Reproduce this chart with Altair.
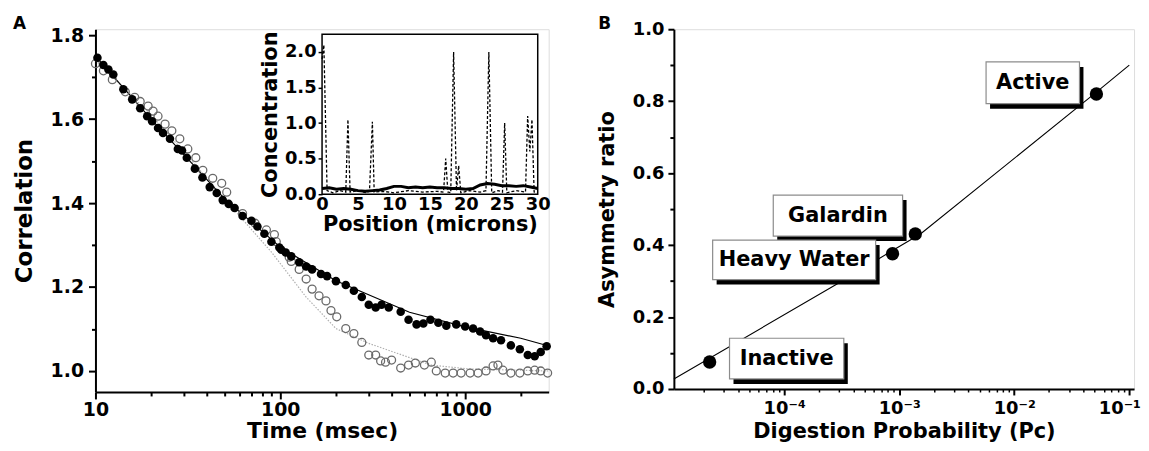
import altair as alt
import pandas as pd
import numpy as np

# ---------------- Panel A: correlation curves ----------------
filled_t = [10.25, 11.04, 11.75, 12.49, 14.15, 15.8, 17.46, 19.04, 20.25, 21.8, 23.2, 25.3,
            27.9, 29.4, 31.2, 34.5, 37.9, 41.5, 45.3, 48.8, 52.6, 56.6, 62.5, 69.8, 75.2, 82.0,
            89.5, 98.8, 101.2, 107, 114.6, 126.5, 138, 148.6, 166, 179, 200, 226, 250, 276,
            301, 328, 353, 386, 448, 494, 546, 594, 649, 716, 791, 895, 1000, 1104, 1205,
            1297, 1416, 1563, 1767, 1977, 2182, 2378, 2563, 2760]
filled_c = [1.746, 1.729, 1.718, 1.706, 1.671, 1.647, 1.626, 1.607, 1.595, 1.579, 1.567, 1.553,
            1.529, 1.525, 1.508, 1.482, 1.461, 1.438, 1.424, 1.407, 1.398, 1.388, 1.369, 1.358,
            1.344, 1.327, 1.308, 1.294, 1.289, 1.282, 1.273, 1.259, 1.249, 1.242, 1.231, 1.226,
            1.214, 1.205, 1.191, 1.176, 1.158, 1.151, 1.158, 1.151, 1.141, 1.122, 1.111, 1.113,
            1.122, 1.115, 1.108, 1.111, 1.106, 1.101, 1.094, 1.085, 1.078, 1.073, 1.061, 1.052,
            1.038, 1.035, 1.045, 1.059]

open_t = [10.0, 11.04, 12.34, 14.5, 16.3, 17.46, 19.27, 20.5, 21.8, 23.8, 25.9, 28.6, 31.6,
          34.9, 38.1, 43.1, 48.2, 51.3, 62.5, 73, 84.1, 92.9, 95.1, 111.7, 114.6, 126.5, 138,
          148.6, 162, 176.6, 188, 202, 226, 250, 276, 301, 328, 349, 371, 400, 448, 494, 538,
          602, 656, 698, 780, 861, 951, 1064, 1175, 1297, 1416, 1504, 1600, 1767, 1977, 2182,
          2378, 2563, 2794]
open_c = [1.732, 1.715, 1.694, 1.665, 1.652, 1.642, 1.631, 1.619, 1.607, 1.588, 1.572, 1.553,
          1.529, 1.508, 1.478, 1.459, 1.447, 1.426, 1.375, 1.352, 1.336, 1.325, 1.308, 1.271,
          1.261, 1.242, 1.219, 1.195, 1.179, 1.167, 1.144, 1.129, 1.101, 1.089, 1.068, 1.038,
          1.038, 1.024, 1.021, 1.026, 1.007, 1.014, 1.019, 1.014, 1.021, 1.0, 0.995, 0.995,
          0.995, 0.995, 0.995, 1.0, 1.012, 1.014, 1.002, 0.995, 0.995, 1.0, 1.002, 1.0, 0.995]

fit_filled_t = [10, 20, 50, 100, 200, 500, 1000, 2000, 2800]
fit_filled_c = [1.75, 1.60, 1.41, 1.295, 1.215, 1.14, 1.105, 1.078, 1.06]

fit_open_t = [10, 20, 40, 60, 90, 138, 200, 300, 456, 656, 1040, 2830]
fit_open_c = [1.74, 1.61, 1.46, 1.37, 1.282, 1.176, 1.101, 1.066, 1.038, 1.014, 1.005, 1.0]

a_tick_values = [10, 100, 1000]
a_minor_x = [20, 30, 40, 50, 60, 70, 80, 90, 200, 300, 400, 500, 600, 700, 800, 900, 2000]
a_y_ticks = [1.0, 1.2, 1.4, 1.6, 1.8]
a_minor_y = [1.1, 1.3, 1.5, 1.7]

# ---------------- Inset: concentration profile ----------------
solid_pos = [0, 1, 2, 3, 4, 5, 6, 7, 8, 9, 10, 11, 12, 13, 14, 15, 16, 17, 18, 19, 20, 21,
             22, 23, 24, 25, 26, 27, 28, 29, 30]
solid_conc = [0.08, 0.09, 0.07, 0.08, 0.07, 0.05, 0.04, 0.05, 0.06, 0.08, 0.11, 0.11, 0.09,
              0.10, 0.09, 0.10, 0.09, 0.09, 0.08, 0.08, 0.07, 0.08, 0.13, 0.15, 0.14, 0.12,
              0.12, 0.11, 0.12, 0.10, 0.08]

dashed_pos = [0.0, 0.25, 0.7, 1.5, 2.5, 3.3, 3.6, 3.9, 5.0, 6.2, 6.6, 7.0, 7.25, 8.5, 10, 12,
              14, 16, 16.9, 17.2, 17.5, 17.9, 18.3, 18.7, 19.0, 19.3, 20.5, 22, 22.8, 23.2,
              23.6, 24.5, 25.1, 25.4, 25.7, 27, 28.3, 28.6, 28.9, 29.2, 29.5, 30]
dashed_conc = [1.9, 2.1, 0.05, 0.02, 0.05, 0.03, 1.05, 0.03, 0.05, 0.02, 0.05, 1.02, 0.03,
               0.04, 0.02, 0.05, 0.03, 0.04, 0.03, 0.5, 0.03, 0.02, 2.0, 0.05, 0.4, 0.02,
               0.05, 0.03, 0.05, 2.0, 0.02, 0.05, 0.03, 1.0, 0.02, 0.05, 0.03, 1.1, 0.6, 1.05,
               0.03, 0.02]

inset_x_ticks = [0, 5, 10, 15, 20, 25, 30]
inset_y_ticks = [0.0, 0.5, 1.0, 1.5, 2.0]

# ---------------- Panel B: asymmetry ratio ----------------
cond_names = ["Inactive", "Heavy Water", "Galardin", "Active"]
cond_pc = [2.25e-5, 8.75e-4, 1.38e-3, 0.0518]
cond_ratio = [0.075, 0.376, 0.431, 0.82]

fit_b_pc = [1.1e-5, 2.93e-4, 8.75e-4, 1.53e-3, 0.0518, 0.1]
fit_b_ratio = [0.028, 0.293, 0.385, 0.431, 0.825, 0.90]

# label boxes (data coordinates of each annotation box)
box_x_lo = [3.35e-5, 2.39e-5, 8.04e-5, 5.69e-3]
box_x_hi = [3.3e-4, 6.24e-4, 1.07e-3, 0.0369]
box_y_lo = [0.028, 0.304, 0.425, 0.793]
box_y_hi = [0.141, 0.414, 0.539, 0.909]

b_tick_values = [1e-4, 1e-3, 1e-2, 1e-1]
b_tick_labels = ["10⁻⁴", "10⁻³", "10⁻²", "10⁻¹"]
b_minor_x = [m * 10.0 ** e for e in (-5, -4, -3, -2) for m in range(2, 10)]
b_minor_x = [v for v in b_minor_x if 1.1e-5 <= v <= 0.11]
b_y_ticks = [0.0, 0.2, 0.4, 0.6, 0.8, 1.0]
b_minor_y = [0.1, 0.3, 0.5, 0.7, 0.9]

panel_letters = ["A", "B"]

FONT = "DejaVu Sans"


def ax(**kw):
    base = dict(labelFont=FONT, labelFontWeight="bold", titleFont=FONT,
                titleFontWeight="bold", domainColor="black", tickColor="black",
                labelColor="black", titleColor="black", grid=False, labelFlush=False)
    base.update(kw)
    return alt.Axis(**base)


def letter(txt, dx):
    return alt.Chart(pd.DataFrame({"L": [txt]})).mark_text(
        font=FONT, fontWeight="bold", fontSize=17, color="black", align="left",
        baseline="alphabetic").encode(x=alt.value(dx), y=alt.value(0), text="L:N")


# ================= Panel A =================
A_W, A_H = 456, 365
A_XDOM = [10, 2830]
A_YDOM = [0.95, 1.8141]


def xA():
    return alt.Scale(type="log", domain=A_XDOM, nice=False)


def yA():
    return alt.Scale(domain=A_YDOM, nice=False, zero=False)


fitf_df = pd.DataFrame({"t": fit_filled_t, "c": fit_filled_c})
fito_df = pd.DataFrame({"t": fit_open_t, "c": fit_open_c})
filled_df = pd.DataFrame({"t": filled_t, "c": filled_c})
open_df = pd.DataFrame({"t": open_t, "c": open_c})

fit_open_line = alt.Chart(fito_df).mark_line(
    color="#b0b0b0", strokeWidth=1.2, strokeDash=[1.5, 1.5]).encode(
    x=alt.X("t:Q", scale=xA(), axis=None),
    y=alt.Y("c:Q", scale=yA(), axis=None))

fit_filled_line = alt.Chart(fitf_df).mark_line(color="black", strokeWidth=1.2).encode(
    x=alt.X("t:Q", scale=xA(), axis=ax(values=a_tick_values, format="d", title="Time (msec)",
                                       orient="bottom", tickSize=7, tickWidth=2, domainWidth=2,
                                       labelFontSize=19, titleFontSize=22, labelPadding=2,
                                       titlePadding=1)),
    y=alt.Y("c:Q", scale=yA(), axis=ax(values=a_y_ticks, format=".1f", title="Correlation",
                                       orient="left", tickSize=7, tickWidth=2, domainWidth=2,
                                       labelFontSize=19, titleFontSize=23, labelPadding=5,
                                       titlePadding=14)))

open_pts = alt.Chart(open_df).mark_point(
    shape="circle", filled=False, stroke="#6a6a6a", strokeWidth=1.3, size=64, opacity=1).encode(
    x=alt.X("t:Q", scale=xA(), axis=None),
    y=alt.Y("c:Q", scale=yA(), axis=None))

filled_pts = alt.Chart(filled_df).mark_circle(color="black", size=74, opacity=1).encode(
    x=alt.X("t:Q", scale=xA(), axis=None),
    y=alt.Y("c:Q", scale=yA(), axis=None))

minor_ax = alt.Chart(pd.DataFrame({"t": a_minor_x, "c": [A_YDOM[0]] * len(a_minor_x)})).mark_point(
    opacity=0).encode(
    x=alt.X("t:Q", scale=xA(), axis=ax(values=a_minor_x, labels=False, domain=False,
                                       tickSize=4, tickWidth=2, title=None, orient="bottom")),
    y=alt.Y("c:Q", scale=yA(), axis=None))
minor_ay = alt.Chart(pd.DataFrame({"c": a_minor_y, "t": [A_XDOM[0]] * len(a_minor_y)})).mark_point(
    opacity=0).encode(
    x=alt.X("t:Q", scale=xA(), axis=None),
    y=alt.Y("c:Q", scale=yA(), axis=ax(values=a_minor_y, labels=False, domain=False,
                                       tickSize=4, tickWidth=2, title=None, orient="left")))

# ----- inset -----
I_X0, I_X1 = 228, 445
I_Y0, I_Y1 = 5, 166
I_XDOM = [0, 30]
I_YDOM = [0, 2.25]


def ix():
    return alt.Scale(domain=I_XDOM, range=[I_X0, I_X1], nice=False)


def iy():
    return alt.Scale(domain=I_YDOM, range=[I_Y1, I_Y0], nice=False, zero=False)


frame_df = pd.DataFrame({"x0": [I_XDOM[0]], "x1": [I_XDOM[1]],
                         "y0": [I_YDOM[0]], "y1": [I_YDOM[1]]})
frame = alt.Chart(frame_df).mark_rect(fill="white", stroke="black", strokeWidth=1.5).encode(
    x=alt.X("x0:Q", scale=ix(), axis=None), x2="x1",
    y=alt.Y("y0:Q", scale=iy(), axis=None), y2="y1")

dashed = alt.Chart(pd.DataFrame({"p": dashed_pos, "v": dashed_conc})).mark_line(
    color="black", strokeWidth=1.3, strokeDash=[3, 2]).encode(
    x=alt.X("p:Q", scale=ix(), axis=ax(values=inset_x_ticks, format="d",
                                       title="Position (microns)", orient="bottom",
                                       offset=-(A_H - I_Y1), tickSize=0, domain=False,
                                       labelFontSize=18, titleFontSize=21, labelPadding=1,
                                       titlePadding=1)),
    y=alt.Y("v:Q", scale=iy(), axis=ax(values=inset_y_ticks, format=".1f",
                                       title="Concentration", orient="left",
                                       offset=-I_X0, tickSize=4, tickWidth=1.5, domain=False,
                                       labelFontSize=18, titleFontSize=21, labelPadding=2,
                                       titlePadding=4)))

solid = alt.Chart(pd.DataFrame({"p": solid_pos, "v": solid_conc})).mark_line(
    color="black", strokeWidth=3).encode(
    x=alt.X("p:Q", scale=ix(), axis=None),
    y=alt.Y("v:Q", scale=iy(), axis=None))

top_ticks_vals = [round(i * 30 / 18, 3) for i in range(1, 18)]
top_ticks = alt.Chart(pd.DataFrame({"p": top_ticks_vals,
                                    "v": [I_YDOM[1]] * len(top_ticks_vals)})).mark_point(
    opacity=0).encode(
    x=alt.X("p:Q", scale=ix(), axis=ax(values=top_ticks_vals, labels=False, domain=False,
                                       tickSize=4, tickWidth=1.2, title=None, orient="top",
                                       offset=-(I_Y0 + 4))),
    y=alt.Y("v:Q", scale=iy(), axis=None))

panel_a = alt.layer(
    fit_open_line, fit_filled_line, open_pts, filled_pts, minor_ax, minor_ay,
    frame, dashed, solid, top_ticks, letter(panel_letters[0], -83)
).resolve_scale(x="independent", y="independent").properties(width=A_W, height=A_H)

# ================= Panel B =================
B_W, B_H = 463, 362
B_XDOM = [1.1e-5, 0.11]
B_YDOM = [0, 1]


def xB():
    return alt.Scale(type="log", domain=B_XDOM, nice=False)


def yB():
    return alt.Scale(domain=B_YDOM, nice=False)


label_expr = " : ".join(
    f"datum.value < {v * 3:.6g} ? '{lab}'" for v, lab in zip(b_tick_values[:-1], b_tick_labels[:-1])
) + f" : '{b_tick_labels[-1]}'"

fitb_df = pd.DataFrame({"pc": fit_b_pc, "r": fit_b_ratio})
cond_df = pd.DataFrame({"name": cond_names, "pc": cond_pc, "r": cond_ratio})
box_df = pd.DataFrame({"name": cond_names, "x0": box_x_lo, "x1": box_x_hi,
                       "y0": box_y_lo, "y1": box_y_hi})
box_df["xm"] = np.sqrt(box_df["x0"] * box_df["x1"])
box_df["ym"] = (box_df["y0"] + box_df["y1"]) / 2

fit_b = alt.Chart(fitb_df).mark_line(color="black", strokeWidth=1.1).encode(
    x=alt.X("pc:Q", scale=xB(), axis=ax(values=b_tick_values, labelExpr=label_expr,
                                        title="Digestion Probability (Pc)", orient="bottom",
                                        tickSize=6, tickWidth=2, domainWidth=2,
                                        labelFontSize=18, titleFontSize=21, labelPadding=5,
                                        titlePadding=3,
                                        labelOffset={"condition": {"test": "datum.value > 0.05",
                                                                   "value": -10},
                                                     "value": 0})),
    y=alt.Y("r:Q", scale=yB(), axis=ax(values=b_y_ticks, format=".1f", title="Asymmetry ratio",
                                       orient="left", tickSize=6, tickWidth=2, domainWidth=2,
                                       labelFontSize=18, titleFontSize=21, labelPadding=4,
                                       titlePadding=15)))

cond_pts = alt.Chart(cond_df).mark_circle(color="black", size=180, opacity=1).encode(
    x=alt.X("pc:Q", scale=xB(), axis=None),
    y=alt.Y("r:Q", scale=yB(), axis=None))

shadow = alt.Chart(box_df).mark_rect(color="black", xOffset=4, x2Offset=4, yOffset=5,
                                     y2Offset=5).encode(
    x=alt.X("x0:Q", scale=xB(), axis=None), x2="x1",
    y=alt.Y("y0:Q", scale=yB(), axis=None), y2="y1")

boxes = alt.Chart(box_df).mark_rect(fill="white", stroke="#8c8c8c", strokeWidth=1.2).encode(
    x=alt.X("x0:Q", scale=xB(), axis=None), x2="x1",
    y=alt.Y("y0:Q", scale=yB(), axis=None), y2="y1")

labels = alt.Chart(box_df).mark_text(font=FONT, fontWeight="bold", fontSize=21,
                                     color="black", align="center", baseline="middle").encode(
    x=alt.X("xm:Q", scale=xB(), axis=None),
    y=alt.Y("ym:Q", scale=yB(), axis=None),
    text="name:N")

minor_bx = alt.Chart(pd.DataFrame({"pc": b_minor_x, "r": [0.0] * len(b_minor_x)})).mark_point(
    opacity=0).encode(
    x=alt.X("pc:Q", scale=xB(), axis=ax(values=b_minor_x, labels=False, domain=False,
                                        tickSize=3, tickWidth=1.5, title=None, orient="bottom")),
    y=alt.Y("r:Q", scale=yB(), axis=None))
minor_by = alt.Chart(pd.DataFrame({"r": b_minor_y, "pc": [B_XDOM[0]] * len(b_minor_y)})).mark_point(
    opacity=0).encode(
    x=alt.X("pc:Q", scale=xB(), axis=None),
    y=alt.Y("r:Q", scale=yB(), axis=ax(values=b_minor_y, labels=False, domain=False,
                                       tickSize=4, tickWidth=2, title=None, orient="left")))

panel_b = alt.layer(fit_b, shadow, boxes, labels, cond_pts, minor_bx, minor_by,
                    letter(panel_letters[1], -76)).resolve_scale(
    x="independent", y="independent").properties(width=B_W, height=B_H)

chart = alt.hconcat(panel_a, panel_b, spacing=40).properties(
    padding={"left": 4, "top": 5, "right": 0, "bottom": 0}
).configure_view(stroke=None).configure(background="white")

chart.save("out.html", embed_options={"renderer": "svg", "actions": False})
